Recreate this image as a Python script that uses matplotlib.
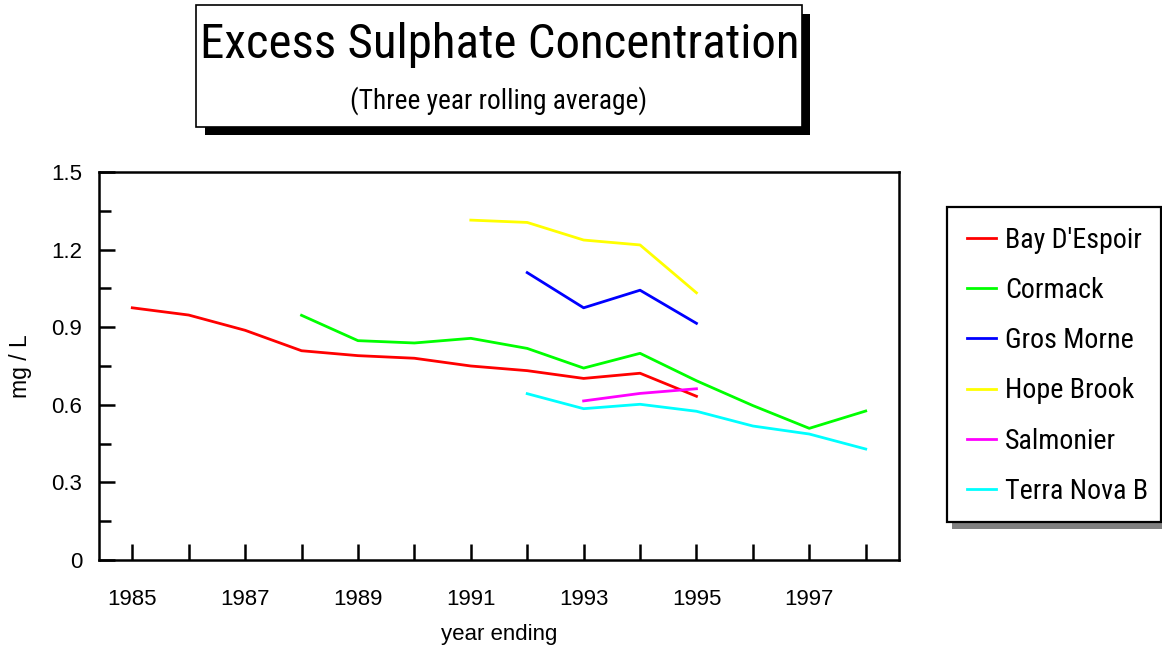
import matplotlib
matplotlib.use("Agg")
import matplotlib.pyplot as plt
from matplotlib import font_manager
from matplotlib.font_manager import FontProperties
from matplotlib.patches import Rectangle
from matplotlib.ticker import MultipleLocator

# three year rolling average of excess sulphate, mg/L, by year ending
SITES = ["Bay D'Espoir", "Cormack", "Gros Morne", "Hope Brook", "Salmonier", "Terra Nova B"]
YEARS = {
    "Bay D'Espoir": [1985, 1986, 1987, 1988, 1989, 1990, 1991, 1992, 1993, 1994, 1995],
    "Cormack": [1988, 1989, 1990, 1991, 1992, 1993, 1994, 1995, 1996, 1997, 1998],
    "Gros Morne": [1992, 1993, 1994, 1995],
    "Hope Brook": [1991, 1992, 1993, 1994, 1995],
    "Salmonier": [1993, 1994, 1995],
    "Terra Nova B": [1992, 1993, 1994, 1995, 1996, 1997, 1998],
}
bay_despoir = [0.975, 0.947, 0.888, 0.809, 0.790, 0.780, 0.750, 0.732, 0.702, 0.722, 0.633]
cormack = [0.946, 0.848, 0.839, 0.857, 0.818, 0.742, 0.799, 0.693, 0.597, 0.509, 0.576]
gros_morne = [1.111, 0.975, 1.043, 0.915]
hope_brook = [1.314, 1.305, 1.237, 1.218, 1.033]
salmonier = [0.615, 0.644, 0.662]
terra_nova = [0.643, 0.585, 0.602, 0.575, 0.518, 0.487, 0.429]
VALUES = [bay_despoir, cormack, gros_morne, hope_brook, salmonier, terra_nova]
COLORS = ["#ff0000", "#00ff00", "#0000ff", "#ffff00", "#ff00ff", "#00ffff"]

plt.rcParams["font.family"] = ["Liberation Sans", "DejaVu Sans"]


def pick_narrow():
    # the original uses a tightly set Arial; take a narrow sans if one is installed
    ttf = font_manager.fontManager.ttflist
    for want in ["Liberation Sans Narrow", "Roboto Condensed", "Open Sans Condensed",
                 "DejaVu Sans Condensed", "Noto Sans Condensed"]:
        for f in ttf:
            if f.name == want and f.style == "normal" and f.weight in (400, "normal", "regular"):
                return f.fname
    for f in ttf:
        if (f.stretch in ("condensed", "semi-condensed") and "Sans" in f.name
                and f.style == "normal" and f.weight in (400, "normal", "regular")):
            return f.fname
    return None


nfile = pick_narrow()


def narrow(size):
    if nfile:
        return FontProperties(fname=nfile, size=size)
    return FontProperties(family="Liberation Sans", size=size)


W, H = 1162, 650
fig = plt.figure(figsize=(W / 100, H / 100), dpi=100)
renderer = fig.canvas.get_renderer()


def fx(px):
    return px / W


def fy(py):
    return 1 - py / H


def fit(txt, width_px):
    w = txt.get_window_extent(renderer).width
    txt.set_fontsize(txt.get_fontsize() * width_px / w)


ax = fig.add_axes([fx(99), fy(560), fx(899) - fx(99), fy(172) - fy(560)])
lines = []
for site, vals, c in zip(SITES, VALUES, COLORS):
    ln, = ax.plot(YEARS[site], vals, color=c, lw=2.0, label=site)
    lines.append(ln)

ax.set_xlim(1984.41, 1998.59)
ax.set_ylim(0, 1.5)
ax.xaxis.set_major_locator(MultipleLocator(2, offset=1))
ax.xaxis.set_minor_locator(MultipleLocator(1))
ax.yaxis.set_major_locator(MultipleLocator(0.3))
ax.yaxis.set_minor_locator(MultipleLocator(0.15))
ax.yaxis.set_major_formatter(lambda v, p: "0" if abs(v) < 1e-9 else f"{v:.1f}")
ax.tick_params(axis="both", which="both", direction="in", width=1.8, color="black",
               labelsize=16)
ax.tick_params(axis="x", which="both", length=11.5, pad=21)
ax.tick_params(axis="y", which="major", length=11.5, pad=12)
ax.tick_params(axis="y", which="minor", length=8.6)
ax.tick_params(top=False, right=False)
for s in ax.spines.values():
    s.set_linewidth(1.8)

ax.set_xlabel("year ending", fontsize=16)
ax.set_ylabel("mg / L", fontsize=16.5)
ax.xaxis.set_label_coords(0.5, -0.165)
ax.yaxis.set_label_coords(-0.084, 0.5)

# title box with hard black drop shadow
fig.patches.append(Rectangle((fx(205), fy(135)), fx(810) - fx(205), fy(14) - fy(135),
                             transform=fig.transFigure, facecolor="black", edgecolor="none"))
fig.patches.append(Rectangle((fx(196), fy(127)), fx(802) - fx(196), fy(5) - fy(127),
                             transform=fig.transFigure, facecolor="white",
                             edgecolor="black", lw=1.2))
t1 = fig.text(fx(500), fy(45), "Excess Sulphate Concentration",
              fontproperties=narrow(37), ha="center", va="center")
t2 = fig.text(fx(499), fy(101), "(Three year rolling average)",
              fontproperties=narrow(18), ha="center", va="center")
fit(t1, 600)
fit(t2, 297)

# legend font sized so "Terra Nova B" spans the same width as in the original
probe = fig.text(0, 0, "Terra Nova B", fontproperties=narrow(19))
fit(probe, 143)
leg_size = probe.get_fontsize()
text_h = probe.get_window_extent(renderer).height
probe.remove()
size_px = leg_size * 100 / 72

# legend box with grey shadow
fig.patches.append(Rectangle((fx(952), fy(529)), fx(1168) - fx(952), fy(212) - fy(529),
                             transform=fig.transFigure, facecolor="#808080", edgecolor="none"))
fig.patches.append(Rectangle((fx(947), fy(522)), fx(1161) - fx(947), fy(207) - fy(522),
                             transform=fig.transFigure, facecolor="white",
                             edgecolor="black", lw=1.6))
fig.legend(handles=lines, loc="upper left", bbox_to_anchor=(fx(967), fy(240 - text_h / 2)),
           frameon=False, borderpad=0, borderaxespad=0, handlelength=29 / size_px,
           handletextpad=9 / size_px, labelspacing=(50.3 - text_h) / size_px,
           prop=narrow(leg_size))

fig.savefig("out.png", dpi=100)
